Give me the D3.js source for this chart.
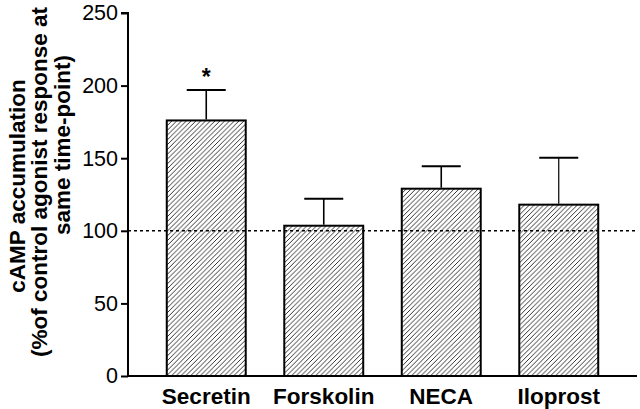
<!DOCTYPE html>
<html><head><meta charset="utf-8">
<script src="https://cdn.jsdelivr.net/npm/d3@7"></script>
<style>body{margin:0;background:#fff}svg{display:block}</style>
</head><body>
<script>
const categories = ["Secretin", "Forskolin", "NECA", "Iloprost"];
const means = [176, 103.5, 129, 118];
const errUpper = [197, 122, 144.5, 150.3];
const significant = [true, false, false, false];
const yTicks = [0, 50, 100, 150, 200, 250];
const refValue = 100;
const yLabelLines = ["cAMP accumulation", "(%of control agonist response at", "same time-point)"];

const W = 640, H = 409;
const svg = d3.select("body").append("svg").attr("width", W).attr("height", H);

const defs = svg.append("defs");
const s = 4.8;
const pat = defs.append("pattern").attr("id", "hatch").attr("patternUnits", "userSpaceOnUse")
  .attr("width", s).attr("height", s);
pat.append("path").attr("d", `M0,${s} L${s},0 M-1,1 L1,-1 M${s-1},${s+1} L${s+1},${s-1}`)
  .attr("stroke", "#111").attr("stroke-width", 0.85);

const x = d3.scaleBand().domain(categories).range([147.5, 617.5]).paddingInner(0.328).paddingOuter(0.164);
const y = d3.scaleLinear().domain([0, 250]).range([376, 13]);

// bars
svg.selectAll("rect.bar").data(categories).join("rect").attr("class", "bar")
  .attr("x", d => x(d)).attr("width", x.bandwidth())
  .attr("y", (d, i) => y(means[i])).attr("height", (d, i) => y(0) - y(means[i]))
  .attr("fill", "url(#hatch)").attr("stroke", "#000").attr("stroke-width", 2);

// error bars
const eg = svg.append("g").attr("stroke", "#000");
categories.forEach((c, i) => {
  const cx = x(c) + x.bandwidth() / 2;
  eg.append("line").attr("x1", cx).attr("x2", cx).attr("y1", y(means[i]) - 1).attr("y2", y(errUpper[i]))
    .attr("stroke-width", i === 3 ? 1.2 : 1.6);
  eg.append("line").attr("x1", cx - 19.5).attr("x2", cx + 19.5).attr("y1", y(errUpper[i])).attr("y2", y(errUpper[i]))
    .attr("stroke-width", 2);
  if (significant[i]) {
    svg.append("text").attr("x", cx).attr("y", y(errUpper[i]) - 5).attr("text-anchor", "middle")
      .attr("font-family", "Liberation Sans, Arial, sans-serif").attr("font-weight", "bold").attr("font-size", 23)
      .text("*");
  }
});

// reference line
svg.append("line").attr("x1", 128).attr("x2", 638).attr("y1", y(refValue)).attr("y2", y(refValue))
  .attr("stroke", "#000").attr("stroke-width", 1.6).attr("stroke-dasharray", "3,3");

// y axis
const yAxis = svg.append("g").attr("transform", "translate(128,0)")
  .call(d3.axisLeft(y).tickValues(yTicks).tickSize(7).tickPadding(3));
yAxis.select(".domain").attr("stroke-width", 2).attr("d", `M-7,${y(250)}H0V${y(0)}`);
yAxis.selectAll(".tick line").attr("stroke-width", 2);
yAxis.selectAll(".tick text").attr("font-family", "Liberation Sans, Arial, sans-serif").attr("font-size", 21.5).attr("fill", "#000");

// x axis line
svg.append("line").attr("x1", 127).attr("x2", 637).attr("y1", y(0)).attr("y2", y(0))
  .attr("stroke", "#000").attr("stroke-width", 2);

// x labels
svg.selectAll("text.xl").data(categories).join("text").attr("class", "xl")
  .attr("x", d => x(d) + x.bandwidth() / 2).attr("y", 404).attr("text-anchor", "middle")
  .attr("font-family", "Liberation Sans, Arial, sans-serif").attr("font-weight", "bold").attr("font-size", 22.5)
  .text(d => d);

// y label
const lblX = [25, 47, 70];
const lblY = [186, 182, 145];
yLabelLines.forEach((t, i) => {
  svg.append("text").attr("transform", `translate(${lblX[i]},${lblY[i]}) rotate(-90)`)
    .attr("text-anchor", "middle")
    .attr("font-family", "Liberation Sans, Arial, sans-serif").attr("font-weight", "bold").attr("font-size", 22.5)
    .text(t);
});
</script>
</body></html>
